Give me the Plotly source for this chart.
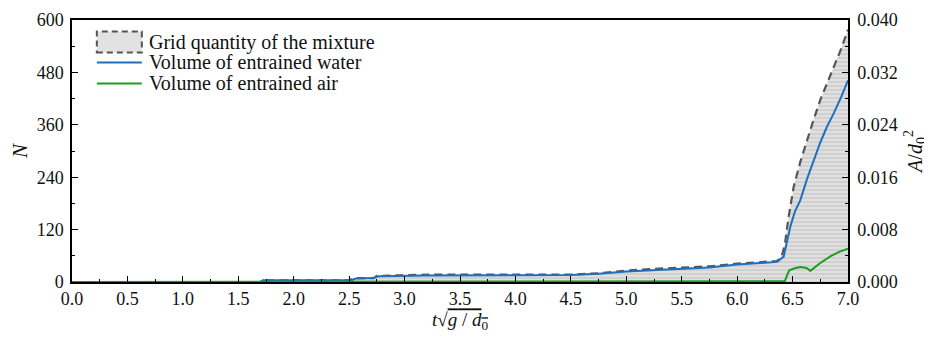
import plotly.graph_objects as go

# ---- data ----
t_mix = [0, 1.70, 1.72, 2.50, 2.55, 2.72, 2.75, 3.0, 3.25, 3.5, 4.0, 4.5, 4.75, 5.0, 5.25,
         5.5, 5.75, 6.0, 6.2, 6.36, 6.40, 6.43, 6.46, 6.51, 6.57, 6.63, 6.69, 6.75, 6.81,
         6.87, 6.94, 7.0]
n_mix = [0, 0, 4, 4, 9, 9, 14, 16, 17, 17, 17, 17, 20, 26, 30,
         33, 36, 42, 45, 48, 58, 85, 142, 218, 275, 325, 372, 417, 455,
         493, 535, 578]

t_water = [0, 1.70, 1.72, 2.52, 2.56, 2.72, 2.76, 3.2, 4.5, 4.75, 5.0, 5.25, 5.5, 5.75,
           6.0, 6.2, 6.36, 6.42, 6.45, 6.48, 6.52, 6.57, 6.63, 6.69, 6.75, 6.81, 6.87,
           6.94, 7.0]
a_water = [0, 0, 0.00027, 0.00027, 0.00053, 0.0006, 0.00087, 0.0010, 0.00107, 0.00127,
           0.0016, 0.0018, 0.00193, 0.0022, 0.00267, 0.00287, 0.00307, 0.00387, 0.0060,
           0.00847, 0.0107, 0.0125, 0.0157, 0.0186, 0.0213, 0.0237, 0.0257, 0.0283, 0.0308]

t_air = [0, 6.0, 6.43, 6.45, 6.47, 6.52, 6.57, 6.60, 6.63, 6.66, 6.70, 6.75, 6.84, 6.92, 7.0]
a_air = [0, 0.00005, 0.0001, 0.0010, 0.0018, 0.0021, 0.0023, 0.0022, 0.0021, 0.0017,
         0.0023, 0.0029, 0.0039, 0.0046, 0.0051]

legend_labels = ["Grid quantity of the mixture", "Volume of entrained water",
                 "Volume of entrained air"]

x_ticks = [0, 0.5, 1.0, 1.5, 2.0, 2.5, 3.0, 3.5, 4.0, 4.5, 5.0, 5.5, 6.0, 6.5, 7.0]
y_ticks = [0, 120, 240, 360, 480, 600]
y2_ticks = [0.0, 0.008, 0.016, 0.024, 0.032, 0.040]

FONT = "Liberation Serif, Times New Roman, DejaVu Serif, serif"
TXT = "#111111"
MIX_COLOR = "#555555"
WATER_COLOR = "#1f6fbf"
AIR_COLOR = "#1e9c1e"
MIX_LINE = dict(color=MIX_COLOR, width=2.2, dash="8px,5px")
MIX_FILL = dict(shape="-", bgcolor="#e0e0e0", fgcolor="#c6c6c6", size=4, solidity=0.3)

fig = go.Figure()
fig.add_trace(go.Scatter(
    x=t_mix, y=n_mix, mode="lines", name=legend_labels[0],
    line=MIX_LINE, fill="tozeroy", fillpattern=MIX_FILL, showlegend=False, yaxis="y"))
fig.add_trace(go.Scatter(
    x=t_water, y=a_water, mode="lines", name=legend_labels[1],
    line=dict(color=WATER_COLOR, width=2), showlegend=False, yaxis="y2"))
fig.add_trace(go.Scatter(
    x=t_air, y=a_air, mode="lines", name=legend_labels[2],
    line=dict(color=AIR_COLOR, width=2), showlegend=False, yaxis="y2"))

# ---- hand-built legend (tighter rows than plotly's legend allows) ----
leg_x0, leg_x1, leg_tx = 0.032, 0.090, 0.097
leg_rows = [0.916, 0.838, 0.758]
fig.add_shape(type="rect", xref="paper", yref="paper",
              x0=leg_x0, x1=leg_x1, y0=leg_rows[0] - 0.040, y1=leg_rows[0] + 0.040,
              fillcolor="#e2e2e2", line=dict(color=MIX_COLOR, width=2, dash="6px,4px"))
for yy, col in zip(leg_rows[1:], [WATER_COLOR, AIR_COLOR]):
    fig.add_shape(type="line", xref="paper", yref="paper",
                  x0=leg_x0, x1=leg_x1, y0=yy, y1=yy, line=dict(color=col, width=2))
for yy, lab in zip(leg_rows, legend_labels):
    fig.add_annotation(x=leg_tx, y=yy, xref="paper", yref="paper", text=lab,
                       showarrow=False, xanchor="left", yanchor="middle",
                       font=dict(family=FONT, size=20, color=TXT))

axis_common = dict(showline=True, linecolor="black", linewidth=1.5, showgrid=False,
                   zeroline=False, ticks="inside", tickcolor="black", ticklen=6,
                   tickwidth=1.3, tickfont=dict(family=FONT, size=18, color=TXT))

fig.update_layout(
    template="none",
    width=932, height=339,
    margin=dict(l=64, r=92, t=12, b=65),
    plot_bgcolor="white", paper_bgcolor="white",
    font=dict(family=FONT, size=18, color=TXT),
    showlegend=False,
    xaxis=dict(range=[0, 7], tickvals=x_ticks,
               ticktext=[f"{v:.1f}" for v in x_ticks], mirror=True,
               minor=dict(dtick=0.25, tick0=0, ticks="inside", ticklen=3, tickcolor="black"),
               title=dict(text="<i>t</i>√<span style='text-decoration:overline'><i>g</i> / <i>d</i><sub>0</sub></span>",
                          font=dict(family=FONT, size=19, color=TXT), standoff=2),
               **axis_common),
    yaxis=dict(range=[0, 600], tickvals=y_ticks, ticktext=[str(v) for v in y_ticks],
               minor=dict(dtick=60, tick0=0, ticks="inside", ticklen=3, tickcolor="black"),
               ticklabelstandoff=3,
               title=dict(text="<i>N</i>", font=dict(family=FONT, size=21, color=TXT), standoff=8),
               **axis_common),
    yaxis2=dict(range=[0, 0.040], tickvals=y2_ticks, ticktext=[f"{v:.3f}" for v in y2_ticks],
                overlaying="y", side="right", ticklabelstandoff=4,
                minor=dict(dtick=0.004, tick0=0, ticks="inside", ticklen=3, tickcolor="black"),
                title=dict(text="<i>A</i>/<i>d</i><sub>0</sub><sup>2</sup>",
                           font=dict(family=FONT, size=20, color=TXT), standoff=11),
                **axis_common),
)

fig.write_html("out.html")
